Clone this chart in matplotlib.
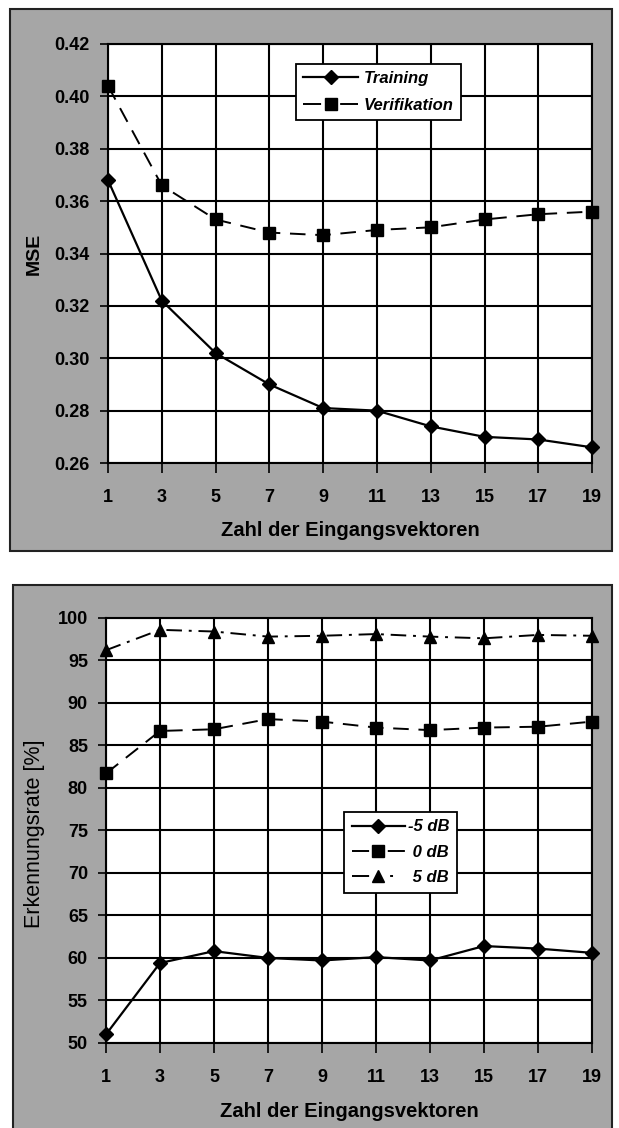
import numpy as np
import matplotlib
matplotlib.use('Agg')
import matplotlib.pyplot as plt
from matplotlib.patches import Rectangle

plt.rcParams['font.family'] = ['Liberation Sans', 'DejaVu Sans']

# Zahl der Eingangsvektoren
vektoren = [1, 3, 5, 7, 9, 11, 13, 15, 17, 19]

# MSE fuer Training und Verifikation
mse_training = [0.368, 0.322, 0.302, 0.290, 0.281, 0.280, 0.274, 0.270, 0.269, 0.266]
mse_verifikation = [0.404, 0.366, 0.353, 0.348, 0.347, 0.349, 0.350, 0.353, 0.355, 0.356]
mse_ticks = [0.26, 0.28, 0.30, 0.32, 0.34, 0.36, 0.38, 0.40, 0.42]

# Erkennungsrate [%] bei verschiedenen SNR
rate_m5db = [51.0, 59.4, 60.8, 60.0, 59.7, 60.1, 59.7, 61.4, 61.1, 60.6]
rate_0db = [81.7, 86.7, 86.9, 88.1, 87.8, 87.1, 86.8, 87.1, 87.2, 87.8]
rate_5db = [96.2, 98.6, 98.4, 97.8, 97.9, 98.1, 97.8, 97.6, 98.0, 97.9]
rate_ticks = [50, 55, 60, 65, 70, 75, 80, 85, 90, 95, 100]

grau = '#a6a6a6'
fig = plt.figure(figsize=(6.19, 11.28), dpi=100)

# graue Rahmen um beide Diagramme
fig.patches.append(Rectangle((0.016, 0.5115), 0.9725, 0.4805, transform=fig.transFigure,
                             facecolor=grau, edgecolor='#222222', lw=1.5, zorder=-5))
fig.patches.append(Rectangle((0.021, -0.01), 0.967, 0.4914, transform=fig.transFigure,
                             facecolor=grau, edgecolor='#222222', lw=1.5, zorder=-5))

tick_font = dict(fontsize=13, fontweight='bold')
leg_font = dict(size=12, weight='bold', style='italic')
gestrichelt = (0, (8, 5))
strichpunkt = (0, (8, 3.5, 1.5, 3.5))


def style_axes(ax, yticks, fmt):
    ax.set_facecolor('white')
    ax.set_xlim(1, 19)
    ax.set_ylim(yticks[0], yticks[-1])
    ax.set_xticks(vektoren)
    ax.set_xticklabels([str(v) for v in vektoren], **tick_font)
    ax.set_yticks(yticks)
    ax.set_yticklabels([fmt.format(t) for t in yticks], **tick_font)
    ax.tick_params(axis='x', direction='out', length=7, width=1.2, pad=11.5)
    ax.tick_params(axis='y', direction='out', length=6, width=1.2, pad=7)
    ax.grid(True, color='black', lw=1.5)
    ax.set_axisbelow(True)
    for s in ax.spines.values():
        s.set_linewidth(1.5)
        s.set_color('black')
    ax.set_xlabel('Zahl der Eingangsvektoren', fontsize=14.5, fontweight='bold')
    ax.xaxis.set_label_coords(0.5, -0.138)


# oberes Diagramm: MSE
ax1 = fig.add_axes([0.1745, 0.5895, 0.782, 0.3715])
ax1.plot(vektoren, mse_training, color='black', lw=1.6, marker='D', ms=7.5,
         label='Training', clip_on=False, zorder=3)
ax1.plot(vektoren, mse_verifikation, color='black', lw=1.4, ls=gestrichelt, marker='s', ms=8.5,
         label='Verifikation', clip_on=False, zorder=3)
style_axes(ax1, mse_ticks, '{:.2f}')
ax1.set_ylabel('MSE', fontsize=14, fontweight='bold', va='center')
ax1.yaxis.set_label_coords(-0.153, 0.5)
leg1 = ax1.legend(loc='upper left', bbox_to_anchor=(0.388, 0.953), prop=leg_font,
                  frameon=True, fancybox=False, framealpha=1, edgecolor='black',
                  handlelength=3.3, handletextpad=0.3, labelspacing=0.7, borderpad=0.45,
                  borderaxespad=0)
leg1.get_frame().set_linewidth(1.3)
# Strich - Symbol - Strich in der Legende
leg1.get_lines()[1].set_linestyle((0, (9.3, 9.8)))

# unteres Diagramm: Erkennungsrate
ax2 = fig.add_axes([0.1712, 0.0754, 0.7851, 0.3768])
ax2.plot(vektoren, rate_m5db, color='black', lw=1.6, marker='D', ms=7.5,
         label='-5 dB', clip_on=False, zorder=3)
ax2.plot(vektoren, rate_0db, color='black', lw=1.4, ls=gestrichelt, marker='s', ms=8.5,
         label=' 0 dB', clip_on=False, zorder=3)
ax2.plot(vektoren, rate_5db, color='black', lw=1.4, ls=strichpunkt, marker='^', ms=8.5,
         label=' 5 dB', clip_on=False, zorder=3)
style_axes(ax2, rate_ticks, '{:d}')
ax2.set_ylabel('Erkennungsrate [%]', fontsize=15.5, va='center')
ax2.yaxis.set_label_coords(-0.147, 0.493)
leg2 = ax2.legend(loc='upper left', bbox_to_anchor=(0.49, 0.5435), prop=leg_font,
                  frameon=True, fancybox=False, framealpha=1, edgecolor='black',
                  handlelength=3.2, handletextpad=0.2, labelspacing=0.62, borderpad=0.45,
                  borderaxespad=0)
leg2.get_frame().set_linewidth(1.3)
leg2.get_lines()[1].set_linestyle((0, (8.8, 9.6)))
leg2.get_lines()[2].set_linestyle((0, (8.8, 10.8, 1.5, 10)))

fig.savefig('out.png', dpi=100, facecolor='white')
